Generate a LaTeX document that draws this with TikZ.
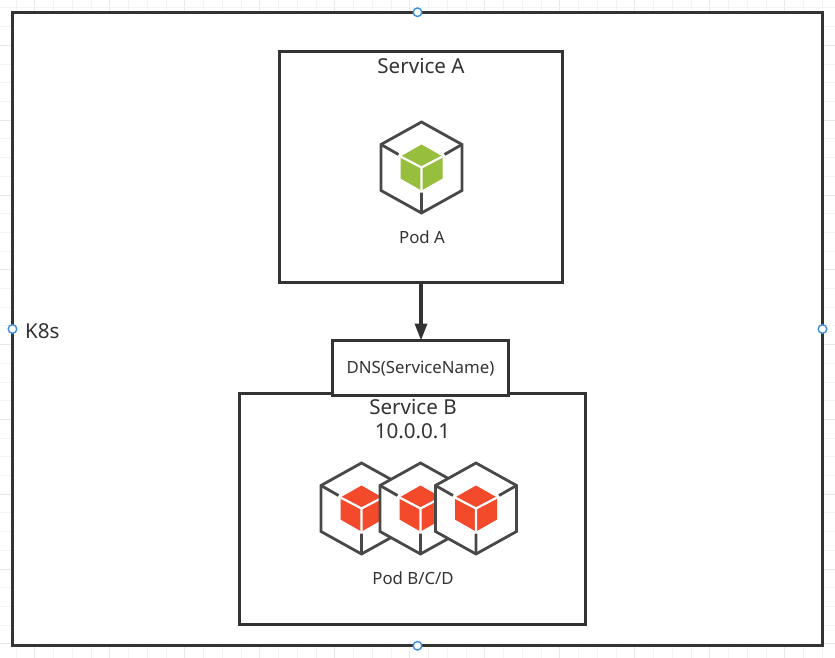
\documentclass[tikz,border=0pt]{standalone}
\usepackage{fontspec}
\setmainfont{Noto Sans}
\usetikzlibrary{arrows.meta}
\definecolor{ink}{HTML}{333333}
\definecolor{iconline}{HTML}{484848}
\definecolor{gridminor}{HTML}{F3F3F3}
\definecolor{gridmajor}{HTML}{E8E8E8}
\definecolor{podgreen}{HTML}{97BF3D}
\definecolor{podred}{HTML}{F24A2B}
\definecolor{handleblue}{HTML}{3D8FE0}
\tikzset{
  frame/.style={draw=ink,line width=2.8pt,fill=white,inner sep=0pt,outer sep=0pt},
  label14/.style={text=ink,inner sep=0pt,font=\fontsize{20.6}{22}\selectfont},
  label12/.style={text=ink,inner sep=0pt,font=\fontsize{16.8}{20}\selectfont},
  handle/.style={circle,draw=handleblue,line width=1.4pt,fill=white,minimum size=8.6pt,inner sep=0pt},
  pics/podicon/.style={code={
    \fill[white] (0,-45.5)--(40.5,-23)--(40.5,23)--(0,45.5)--(-40.5,23)--(-40.5,-23)--cycle;
    \draw[iconline,line width=2.8pt,line join=miter] (0,-45.5)--(40.5,-23)--(40.5,23)--(0,45.5)--(-40.5,23)--(-40.5,-23)--cycle;
    \draw[iconline,line width=2.8pt] (-40.5,-23)--(-23,-13) (40.5,-23)--(23,-13) (0,45.5)--(0,25);
    \fill[#1] (0,-23)--(21,-11)--(21,11)--(0,23)--(-21,11)--(-21,-11)--cycle;
    \draw[white,line width=2.2pt] (-21,-11)--(0,0)--(21,-11) (0,0)--(0,23);
  }}
}
\begin{document}
\begin{tikzpicture}[x=1pt,y=-1pt]
\useasboundingbox (0,0) rectangle (835,658);
\fill[white] (0,0) rectangle (835,658);
\foreach \k in {0,...,44} {
  \pgfmathsetmacro{\gx}{16+18.75*\k}
  \pgfmathtruncatemacro{\ismajor}{mod(\k+3,4)==0 ? 1 : 0}
  \ifnum\ismajor=1 \draw[gridmajor,line width=1pt] (\gx,0)--(\gx,658);
  \else \draw[gridminor,line width=1pt] (\gx,0)--(\gx,658); \fi
}
\foreach \k in {0,...,35} {
  \pgfmathsetmacro{\gy}{8+18.7*\k}
  \pgfmathtruncatemacro{\ismajor}{mod(\k+2,4)==0 ? 1 : 0}
  \ifnum\ismajor=1 \draw[gridmajor,line width=1pt] (0,\gy)--(835,\gy);
  \else \draw[gridminor,line width=1pt] (0,\gy)--(835,\gy); \fi
}
\node[frame,minimum width=810pt,minimum height=633.5pt] (k8s) at (417.5,329) {};
\node[label14,anchor=west] (k8slabel) at (25,331) {K8s};

\node[frame,minimum width=283pt,minimum height=231pt] (svca) at (421,167) {};
\node[label14] (svcalabel) at (421,66) {Service A};
\pic at (421.5,167.5) {podicon=podgreen};
\node[label12] (poda) at (422,237) {Pod A};

\node[frame,minimum width=346pt,minimum height=231pt] (svcb) at (412.5,509) {};
\node[label14] (svcblabel) at (413,407) {Service B};
\node[label14] (svcbip) at (412.5,431) {10.0.0.1};
\pic at (361.5,508.5) {podicon=podred};
\pic at (420.5,508.5) {podicon=podred};
\pic at (476,508.5) {podicon=podred};
\node[label12] (podb) at (413,578) {Pod B/C/D};

\node[frame,minimum width=176pt,minimum height=55pt] (dns) at (420.5,368) {};
\node[label12] (dnslabel) at (420.5,369) {DNS(ServiceName)};
\draw[ink,line width=3.4pt,-{Triangle[length=17pt,width=12pt]}] (svca.south) -- (svca.south |- dns.north);

\node[handle] (h1) at (k8s.north) {};
\node[handle] (h2) at (k8s.south) {};
\node[handle] (h3) at (k8s.west) {};
\node[handle] (h4) at (k8s.east) {};
\end{tikzpicture}
\end{document}
